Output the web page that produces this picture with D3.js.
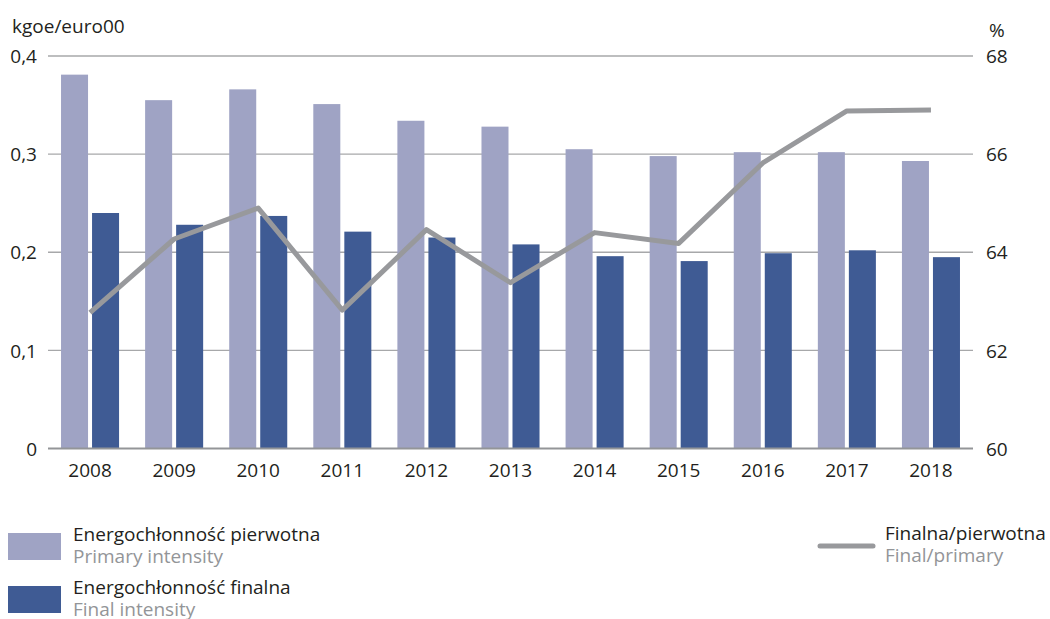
<!DOCTYPE html>
<html><head><meta charset="utf-8">
<script src="https://cdn.jsdelivr.net/npm/d3@7"></script>
<style>
body{margin:0;background:#fff;}
svg{display:block;font-family:"Open Sans",sans-serif;}
</style></head>
<body><svg id="c" width="1050" height="619"></svg>
<script>
const years = ["2008","2009","2010","2011","2012","2013","2014","2015","2016","2017","2018"];
const primaryIntensity = [0.381,0.355,0.366,0.351,0.334,0.328,0.305,0.298,0.302,0.302,0.293];
const finalIntensity = [0.240,0.228,0.237,0.221,0.215,0.208,0.196,0.191,0.199,0.202,0.195];
const finalPrimaryRatio = [62.77,64.27,64.90,62.82,64.46,63.38,64.40,64.18,65.82,66.88,66.90];
const leftTicks = [0,0.1,0.2,0.3,0.4];
const rightTicks = [60,62,64,66,68];

const FS = 19;
const svg = d3.select("#c");
const L = 48, R = 973, T = 56, B = 448.5;
const x = d3.scaleBand().domain(years).range([L,R]).paddingInner(0).paddingOuter(0);
const inner = d3.scaleBand().domain(["p","f"]).range([0,x.bandwidth()]).paddingInner(0.129).paddingOuter(0.42);
const yL = d3.scaleLinear().domain([0,0.4]).range([B,T]);
const yR = d3.scaleLinear().domain([60,68]).range([B,T]);
const fmt = d3.format(".1f");
const comma = v => v===0 ? "0" : fmt(v).replace(".",",");

// gridlines
svg.append("g").selectAll("line").data(leftTicks.filter(d=>d>0)).join("line")
  .attr("x1",L).attr("x2",R).attr("y1",d=>yL(d)).attr("y2",d=>yL(d))
  .attr("stroke","#a7a8aa").attr("stroke-width",1.3);

// bars
const g = svg.append("g");
g.selectAll("rect.p").data(years).join("rect").attr("class","p")
  .attr("x",d=>x(d)+inner("p")).attr("width",inner.bandwidth())
  .attr("y",(d,i)=>yL(primaryIntensity[i])).attr("height",(d,i)=>B-yL(primaryIntensity[i]))
  .attr("fill","#9fa3c4");
g.selectAll("rect.f").data(years).join("rect").attr("class","f")
  .attr("x",d=>x(d)+inner("f")).attr("width",inner.bandwidth())
  .attr("y",(d,i)=>yL(finalIntensity[i])).attr("height",(d,i)=>B-yL(finalIntensity[i]))
  .attr("fill","#3f5b94");

// baseline
svg.append("line").attr("x1",L).attr("x2",R).attr("y1",B).attr("y2",B)
  .attr("stroke","#939598").attr("stroke-width",2);

// line
const line = d3.line().x((d,i)=>x(years[i])+x.bandwidth()/2).y(d=>yR(d));
svg.append("path").datum(finalPrimaryRatio).attr("d",line)
  .attr("fill","none").attr("stroke","#98999c").attr("stroke-width",5)
  .attr("stroke-linejoin","round");

// axes
const axL = svg.append("g").attr("transform",`translate(${L},0)`)
  .call(d3.axisLeft(yL).tickValues(leftTicks).tickFormat(comma).tickSize(0).tickPadding(11));
const axR = svg.append("g").attr("transform",`translate(${R},0)`)
  .call(d3.axisRight(yR).tickValues(rightTicks).tickSize(0).tickPadding(13));
const axB = svg.append("g").attr("transform",`translate(0,${B})`)
  .call(d3.axisBottom(x).tickSize(0).tickPadding(15));
[axL,axR,axB].forEach(a=>{
  a.select(".domain").remove();
  a.selectAll("text").attr("font-family","Open Sans").attr("font-size",FS).attr("fill","#231f20");
});
axL.selectAll("text").attr("dy","0.35em");
axR.selectAll("text").attr("dy","0.35em");
axB.selectAll("text").attr("dy","0.71em");

svg.append("text").attr("x",12).attr("y",33).text("kgoe/euro00")
  .attr("font-size",FS).attr("fill","#231f20");
svg.append("text").attr("x",989).attr("y",37).text("%")
  .attr("font-size",FS).attr("fill","#231f20");

// legend
const leg = [
  {c:"#9fa3c4", y:533, t1:541, a:"Energochłonność pierwotna", b:"Primary intensity"},
  {c:"#3f5b94", y:586, t1:594, a:"Energochłonność finalna", b:"Final intensity"}
];
leg.forEach(l=>{
  svg.append("rect").attr("x",8).attr("y",l.y).attr("width",53).attr("height",27).attr("fill",l.c);
  svg.append("text").attr("x",73).attr("y",l.t1).text(l.a).attr("font-size",FS).attr("fill","#231f20");
  svg.append("text").attr("x",73).attr("y",l.t1+22).text(l.b).attr("font-size",FS).attr("fill","#939598");
});
svg.append("line").attr("x1",820).attr("x2",873).attr("y1",546).attr("y2",546)
  .attr("stroke","#98999c").attr("stroke-width",5).attr("stroke-linecap","round");
svg.append("text").attr("x",885).attr("y",540).text("Finalna/pierwotna").attr("font-size",FS).attr("fill","#231f20");
svg.append("text").attr("x",885).attr("y",562).text("Final/primary").attr("font-size",FS).attr("fill","#939598");
</script></body></html>
